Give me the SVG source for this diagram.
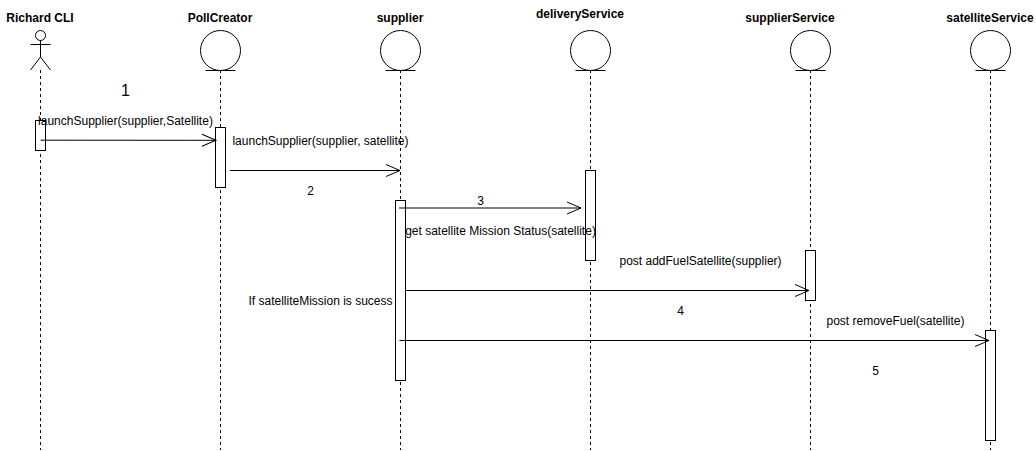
<svg xmlns="http://www.w3.org/2000/svg" width="1036" height="451" viewBox="0 0 1036 451">
<style>
text{font-family:"Liberation Sans",Arial,sans-serif;font-size:12px;fill:#000;text-anchor:middle}
.t{font-weight:bold}
.l{fill:none;stroke:#000;stroke-width:1;stroke-dasharray:3 3}
.s{fill:none;stroke:#000;stroke-width:1}
.c{fill:#fff;stroke:#000;stroke-width:1}
.a{fill:#fff;stroke:#000;stroke-width:1}
.m{fill:none;stroke:#000;stroke-width:1}
</style>
<defs>
<marker id="open" markerUnits="userSpaceOnUse" markerWidth="16" markerHeight="14" refX="15" refY="7" orient="auto" overflow="visible">
<path d="M1 1L15 7L1 13" fill="none" stroke="#000" stroke-width="1"/>
</marker>
</defs>
<rect width="1036" height="451" fill="#fff"/>
<g id="node-richard">
<path class="l" d="M40.5 70V450"/>
<circle class="c" cx="40.5" cy="35.5" r="5"/>
<path class="s" d="M40.5 40.500V57M30.500 44.500H50.500M30.500 70L40.500 57L50.500 70"/>
<rect class="a" x="35.500" y="120.500" width="10" height="30"/>
<text class="t" x="40" y="22">Richard CLI</text>
</g>
<g id="node-pollcreator">
<path class="l" d="M220.500 70V450"/>
<circle class="c" cx="220.500" cy="50.500" r="20"/>
<path class="s" d="M205.500 70.500H235.500"/>
<rect class="a" x="215.500" y="127.500" width="10" height="60"/>
<text class="t" x="220" y="22">PollCreator</text>
</g>
<g id="node-supplier">
<path class="l" d="M400.500 70V450"/>
<circle class="c" cx="400.500" cy="50.500" r="20"/>
<path class="s" d="M385.500 70.500H415.500"/>
<rect class="a" x="395.500" y="200.500" width="10" height="180"/>
<text class="t" x="400" y="22">supplier</text>
</g>
<g id="node-delivery">
<path class="l" d="M590.500 70V450"/>
<circle class="c" cx="590.500" cy="50.500" r="20"/>
<path class="s" d="M575.500 70.500H605.500"/>
<rect class="a" x="585.500" y="170.500" width="10" height="90"/>
<text class="t" x="580" y="18">deliveryService</text>
</g>
<g id="node-supplierservice">
<path class="l" d="M810.500 70V450"/>
<circle class="c" cx="810.500" cy="50.500" r="20"/>
<path class="s" d="M795.500 70.500H825.500"/>
<rect class="a" x="805.500" y="250.500" width="10" height="50"/>
<text class="t" x="790" y="22">supplierService</text>
</g>
<g id="node-satelliteservice">
<path class="l" d="M990.500 70V450"/>
<circle class="c" cx="990.500" cy="50.500" r="20"/>
<path class="s" d="M975.500 70.500H1005.500"/>
<rect class="a" x="985.500" y="330.500" width="10" height="110"/>
<text class="t" x="990" y="22">satelliteService</text>
</g>
<g id="connectors">
<path class="m" marker-end="url(#open)" d="M40.500 140.200L216 140.300"/>
<path class="m" marker-end="url(#open)" d="M230 170.500H400"/>
<path class="m" marker-end="url(#open)" d="M399 208H581"/>
<path class="m" marker-end="url(#open)" d="M405.500 290.500H809"/>
<path class="m" marker-end="url(#open)" d="M399.500 340.500H989"/>
</g>
<g id="labels">
<text x="125.500" y="96" style="font-size:16px">1</text>
<text x="125.500" y="125">launchSupplier(supplier,Satellite)</text>
<text x="320.500" y="145">launchSupplier(supplier, satellite)</text>
<text x="310.500" y="195">2</text>
<text x="480.500" y="205">3</text>
<text x="500.500" y="235">get satellite Mission Status(satellite)</text>
<text x="700.500" y="265">post addFuelSatellite(supplier)</text>
<text x="320.500" y="305">If satelliteMission is sucess</text>
<text x="680.500" y="315">4</text>
<text x="895.500" y="325">post removeFuel(satellite)</text>
<text x="875.500" y="375">5</text>
</g>
</svg>
